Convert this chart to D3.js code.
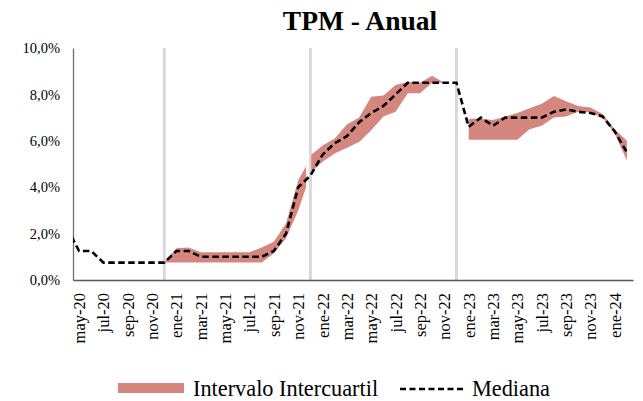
<!DOCTYPE html>
<html><head><meta charset="utf-8">
<script src="https://cdn.jsdelivr.net/npm/d3@7"></script>
<style>body{margin:0;background:#fff}svg{display:block}svg text{font-family:'Liberation Serif','DejaVu Serif',serif !important;fill:#000}</style>
</head><body><svg id="c" width="643" height="401"></svg>
<script>
// Months (abr-20 is just before the visible window)
const months = ["abr-20","may-20","jun-20","jul-20","ago-20","sep-20","oct-20","nov-20","dic-20",
"ene-21","feb-21","mar-21","abr-21","may-21","jun-21","jul-21","ago-21","sep-21","oct-21","nov-21","dic-21",
"ene-22","feb-22","mar-22","abr-22","may-22","jun-22","jul-22","ago-22","sep-22","oct-22","nov-22","dic-22",
"ene-23","feb-23","mar-23","abr-23","may-23","jun-23","jul-23","ago-23","sep-23","oct-23","nov-23","dic-23",
"ene-24","feb-24"];
const mediana = [2.25,1.25,1.25,0.75,0.75,0.75,0.75,0.75,0.75,
1.25,1.25,1.0,1.0,1.0,1.0,1.0,1.0,1.25,2.0,4.0,4.5,
5.4,5.9,6.2,6.8,7.2,7.5,8.0,8.5,8.5,8.5,8.5,8.5,
6.6,7.0,6.65,7.0,7.0,7.0,7.0,7.25,7.35,7.25,7.2,7.05,
6.4,5.5];
// Interquartile band: position in months since may-20 (null = gap)
const bandPos  = [7,8,9,10,11,12,13,14,15,16,17,18,18.65,null,
19.07,20,21,22,23,24,25,26,27,28,29,30,null,
32,33,34,35,36,37,38,39,40,41,42,43,44,45];
const bandLow  = [0.75,0.75,0.75,0.75,0.75,0.75,0.75,0.75,0.75,1.15,1.8,3.0,4.0,null,
4.65,5.1,5.45,5.7,5.95,6.45,7.05,7.25,8.05,8.05,8.5,8.5,null,
6.05,6.05,6.05,6.05,6.05,6.5,6.65,7.0,7.05,7.25,7.22,7.0,6.3,5.15];
const bandHigh = [0.8,1.37,1.4,1.2,1.2,1.2,1.2,1.2,1.4,1.65,2.45,4.3,4.9,null,
5.4,5.8,6.1,6.7,7.0,7.9,7.95,8.4,8.55,8.5,8.8,8.5,null,
6.95,6.95,6.9,7.05,7.2,7.4,7.6,7.93,7.7,7.5,7.43,7.15,6.5,6.0];
const yearMarks = ["dic-20","dic-21","dic-22"];
const yTicks = [0,2,4,6,8,10];
const xTickLabels = months.filter((m,i)=> i>=1 && (i-1)%2===0);

const FONT = "'Liberation Serif','DejaVu Serif',serif";
const svg = d3.select("#c");
const L=73,R=633,T=48,B=280;
const idx = m => months.indexOf(m) - 1;
const x = d3.scaleLinear().domain([-0.5,45.5]).range([L,R]);
const y = d3.scaleLinear().domain([0,10]).range([B,T]);
const fmt = v => d3.format(".1f")(v).replace(".",",")+"%";

svg.append("defs").append("clipPath").attr("id","clip")
  .append("rect").attr("x",L).attr("y",0).attr("width",R-L).attr("height",B);

// title
svg.append("text").attr("x",360).attr("y",30).attr("text-anchor","middle")
  .style("font-family",FONT).style("font-size","27.5px").style("font-weight","bold").text("TPM - Anual");

// year separators
svg.selectAll(".ym").data(yearMarks).join("line")
  .attr("x1",d=>x(idx(d))).attr("x2",d=>x(idx(d))).attr("y1",T).attr("y2",B)
  .attr("stroke","#d9d9d9").attr("stroke-width",3);

// band
const band = bandPos.map((p,i)=>({p,lo:bandLow[i],hi:bandHigh[i]}));
svg.append("path").datum(band)
  .attr("d", d3.area().defined(d=>d.p!==null).x(d=>x(d.p)).y0(d=>y(d.lo)).y1(d=>y(d.hi)))
  .attr("fill","#d5877f");

// axes
const ya = svg.append("g").attr("transform",`translate(${L},0)`)
  .call(d3.axisLeft(y).tickValues(yTicks).tickFormat(fmt).tickSize(0).tickPadding(13))
  .attr("font-family",FONT);
ya.select(".domain").attr("stroke","#6f6f6f").attr("stroke-width",1.3);
ya.selectAll("text").style("font-family",FONT).style("font-size","14.5px");

const xa = svg.append("g").attr("transform",`translate(0,${B})`)
  .call(d3.axisBottom(x).tickValues(xTickLabels.map(idx)).tickFormat(v=>months[v+1]).tickSize(0))
  .attr("font-family",FONT);
xa.select(".domain").attr("stroke","#595959").attr("stroke-width",1.5);
xa.selectAll("text").style("font-family",FONT).style("font-size","16.5px")
  .attr("text-anchor","end").attr("transform","rotate(-90)")
  .attr("x",-13).attr("y",0).attr("dy","0.33em");

// median
const med = mediana.map((v,i)=>({i:i-1,v}));
svg.append("path").datum(med).attr("clip-path","url(#clip)")
  .attr("d", d3.line().x(d=>x(d.i)).y(d=>y(d.v)))
  .attr("fill","none").attr("stroke","#000").attr("stroke-width",2.6)
  .attr("stroke-dasharray","6.5,3.5");

// legend
const lg = svg.append("g");
lg.append("rect").attr("x",118).attr("y",383).attr("width",66).attr("height",10).attr("fill","#d5877f");
lg.append("text").attr("x",193).attr("y",396).style("font-family",FONT).style("font-size","22.3px").text("Intervalo Intercuartil");
lg.append("line").attr("x1",400).attr("x2",466).attr("y1",389).attr("y2",389)
  .attr("stroke","#000").attr("stroke-width",2.6).attr("stroke-dasharray","6,3.5");
lg.append("text").attr("x",472).attr("y",396).style("font-family",FONT).style("font-size","22.3px").text("Mediana");
</script></body></html>
